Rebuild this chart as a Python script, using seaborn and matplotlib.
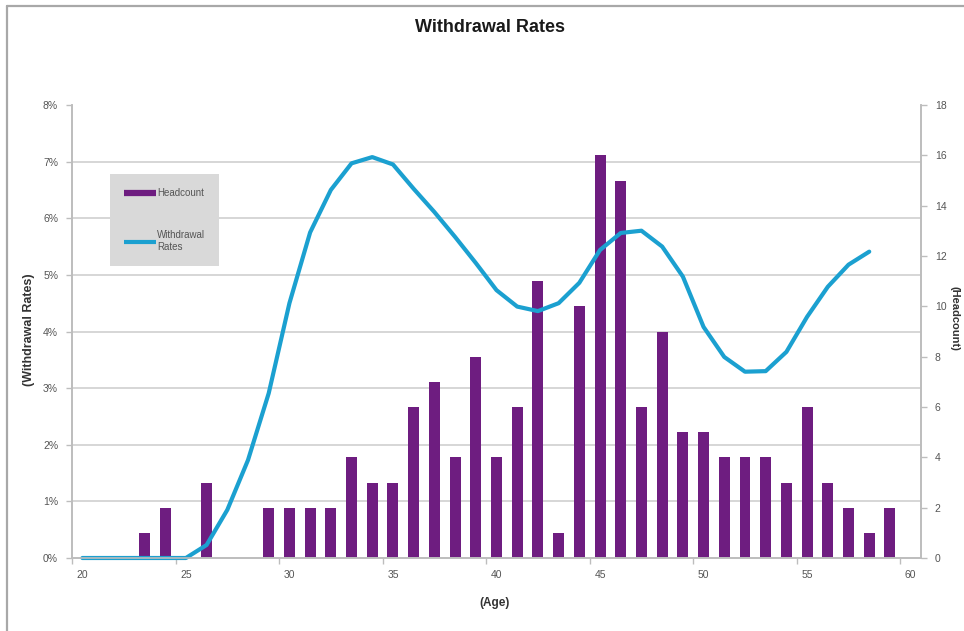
import numpy as np
import matplotlib
matplotlib.use("Agg")
import matplotlib.pyplot as plt
from matplotlib.lines import Line2D
from matplotlib.ticker import FixedLocator, PercentFormatter, NullFormatter
import seaborn as sns

# Headcount by age (bars, right axis)
ages = list(range(20, 60))
headcount = [0, 0, 0, 1, 2, 0, 3, 0, 0, 2,
             2, 2, 2, 4, 3, 3, 6, 7, 4, 8,
             4, 6, 11, 1, 10, 16, 15, 6, 9, 5,
             5, 4, 4, 4, 3, 6, 3, 2, 1, 2]

# Withdrawal rate by age in percent (line, left axis)
rate_ages = list(range(20, 59))
withdrawal_rates = [0.0, 0.0, 0.0, 0.0, 0.0, 0.0, 0.23, 0.85, 1.73, 2.91,
                    4.50, 5.75, 6.50, 6.97, 7.08, 6.95, 6.52, 6.11, 5.67, 5.21,
                    4.73, 4.44, 4.36, 4.50, 4.86, 5.44, 5.74, 5.78, 5.50, 4.97,
                    4.08, 3.55, 3.29, 3.30, 3.64, 4.26, 4.79, 5.18, 5.41]

x_ticks = [20, 25, 30, 35, 40, 45, 50, 55, 60]
rate_ticks = [0, 1, 2, 3, 4, 5, 6, 7, 8]
count_ticks = [0, 2, 4, 6, 8, 10, 12, 14, 16, 18]

PURPLE = "#6e1d80"
BLUE = "#1ba0d0"
AXIS_GREY = "#bdbdbd"
GRID_GREY = "#d6d6d6"
TEXT_GREY = "#555555"

sns.set_style("white")
plt.rcParams["font.family"] = ["Liberation Sans", "DejaVu Sans"]

fig = plt.figure(figsize=(9.64, 6.31), dpi=100)
W, H = 964, 631
left, right, top, bottom = 72, 921, 105, 558
ax = fig.add_axes([left / W, 1 - bottom / H, (right - left) / W, (bottom - top) / H])

# Bars: headcount on the right-hand scale
sns.barplot(x=ages, y=headcount, ax=ax, native_scale=True, color=PURPLE,
            saturation=1, width=0.53, errorbar=None, linewidth=0)

# Line: withdrawal rate on the left-hand scale (drawn above the bars)
ax2 = ax.twinx()
sns.lineplot(x=rate_ages, y=withdrawal_rates, ax=ax2, color=BLUE, linewidth=3.0)
for ln in ax2.get_lines():
    ln.set_clip_on(False)
    ln.set_solid_joinstyle("round")

# Right-hand headcount scale
ax.set_ylim(0, max(count_ticks))
ax.set_yticks(count_ticks)
ax.yaxis.set_label_position("right")
ax.tick_params(axis="y", which="major", left=False, labelleft=False, right=True, labelright=True,
               length=4, width=1, color=AXIS_GREY, pad=6, labelsize=7.5, labelcolor=TEXT_GREY)

# Horizontal gridlines follow the percentage scale
scale = max(count_ticks) / max(rate_ticks)
ax.yaxis.set_minor_locator(FixedLocator([t * scale for t in rate_ticks]))
ax.yaxis.set_minor_formatter(NullFormatter())
ax.grid(False)
ax.grid(True, which="minor", axis="y", color=GRID_GREY, linewidth=1.4)
ax.set_axisbelow(True)
ax.tick_params(axis="y", which="minor", length=0, left=False, right=False)

# Left-hand percentage scale
ax2.set_ylim(0, max(rate_ticks))
ax2.set_yticks(rate_ticks)
ax2.yaxis.set_major_formatter(PercentFormatter(100, decimals=0))
ax2.yaxis.set_label_position("left")
ax2.tick_params(axis="y", which="major", left=True, labelleft=True, right=False, labelright=False,
                length=4, width=1, color=AXIS_GREY, pad=6, labelsize=7.5, labelcolor=TEXT_GREY)
ax2.grid(False)

# X axis: labels at whole ages, tick marks between categories
ax.set_xlim(19.5, 60.5)
ax.set_xticks(x_ticks)
ax.xaxis.set_minor_locator(FixedLocator([t - 0.5 for t in x_ticks]))
ax.tick_params(axis="x", which="major", length=0, pad=9, labelsize=7.5, labelcolor=TEXT_GREY)
ax.tick_params(axis="x", which="minor", length=4, width=1, color=AXIS_GREY, direction="out", bottom=True)

for a in (ax, ax2):
    a.spines["top"].set_visible(False)
    for s in ("left", "right", "bottom"):
        a.spines[s].set_color(AXIS_GREY)
        a.spines[s].set_linewidth(1.2)

# Axis titles
ax.set_xlabel("(Age)", fontsize=8.5, fontweight="bold", color="#333333", va="center")
ax.xaxis.set_label_coords((495 - left) / (right - left), (bottom - 603) / (bottom - top))
ax2.set_ylabel("(Withdrawal Rates)", fontsize=9, fontweight="bold", color="#333333",
               rotation=90, va="center", ha="center")
ax2.yaxis.set_label_coords((29 - left) / (right - left), (bottom - 330) / (bottom - top))
ax.set_ylabel("(Headcount)", fontsize=8, fontweight="bold", color="#333333",
              rotation=270, va="center", ha="center")
ax.yaxis.set_label_coords((955 - left) / (right - left), (bottom - 318) / (bottom - top))

fig.suptitle("Withdrawal Rates", x=490 / W, y=1 - 28 / H, va="center",
             fontsize=13, fontweight="bold", color="#1a1a1a")

# Legend
handles = [Line2D([], [], color=PURPLE, linewidth=4.5, solid_capstyle="butt"),
           Line2D([], [], color=BLUE, linewidth=3.0, solid_capstyle="butt")]
leg = ax2.legend(handles, ["Headcount", "Withdrawal\nRates"],
                 loc="upper left", bbox_to_anchor=((110 - left) / (right - left), (bottom - 174) / (bottom - top)),
                 frameon=True, facecolor="#d9d9d9", edgecolor="none", fancybox=False, framealpha=1,
                 fontsize=7, handlelength=3.3, handletextpad=0.1, labelspacing=3.3,
                 borderpad=1.45, borderaxespad=0)
for t in leg.get_texts():
    t.set_color(TEXT_GREY)

# Chart frame edges
fig.add_artist(Line2D([7 / W, 7 / W], [0, 1 - 6 / H], transform=fig.transFigure, color="#a8a8a8", linewidth=1.6))
fig.add_artist(Line2D([7 / W, 1], [1 - 6 / H, 1 - 6 / H], transform=fig.transFigure, color="#a8a8a8", linewidth=1.6))

fig.savefig("out.png", dpi=100)
